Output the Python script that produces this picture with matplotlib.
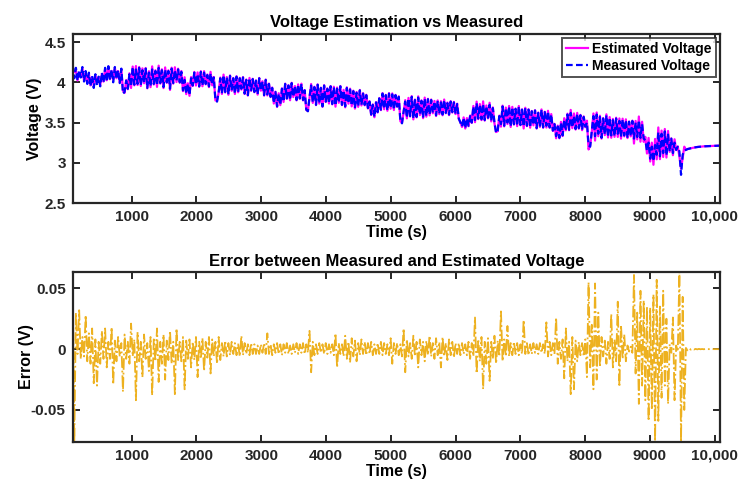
import numpy as np
import matplotlib
matplotlib.use("Agg")
import matplotlib.pyplot as plt

plt.rcParams['font.family'] = ['Liberation Sans', 'DejaVu Sans']
plt.rcParams['font.weight'] = 'bold'

# measured terminal voltage (V), one value every ~25 s
v_measured = [
    4.22, 4.05, 4.18, 4.02, 4.15, 4.06, 4.19, 4.01, 4.14, 3.98, 4.12, 3.95, 4.08, 3.93, 4.10, 3.96, 4.07, 3.95, 4.12, 4.00,
    4.18, 4.01, 4.20, 4.03, 4.16, 4.00, 4.19, 4.04, 4.15, 3.99, 4.17, 3.86, 3.88, 4.02, 3.92, 4.10, 3.95, 4.19, 3.97, 4.16,
    3.98, 4.18, 3.96, 4.15, 4.00, 4.17, 3.93, 4.12, 3.95, 4.16, 3.98, 4.14, 3.96, 4.18, 3.99, 4.15, 3.94, 4.16, 4.00, 4.14,
    3.92, 4.17, 3.99, 4.15, 4.02, 4.16, 4.00, 4.13, 3.90, 4.03, 3.86, 3.98, 3.84, 4.05, 3.96, 4.12, 3.97, 4.10, 3.95, 4.13,
    3.96, 4.12, 3.98, 4.09, 3.95, 4.11, 3.97, 4.06, 3.78, 3.76, 3.88, 4.05, 3.86, 4.09, 3.88, 4.06, 3.85, 4.08, 3.90, 4.05,
    3.86, 4.07, 3.88, 4.05, 3.92, 4.06, 3.86, 4.03, 3.84, 4.05, 3.90, 4.04, 3.88, 4.02, 3.85, 4.05, 3.90, 4.01, 3.84, 4.03,
    3.85, 3.98, 3.82, 3.93, 3.74, 3.88, 3.70, 3.86, 3.72, 3.92, 3.76, 3.98, 3.80, 3.96, 3.78, 3.99, 3.82, 3.95, 3.78, 3.97,
    3.80, 3.98, 3.78, 3.90, 3.66, 3.64, 3.82, 3.96, 3.75, 3.94, 3.72, 3.97, 3.74, 3.93, 3.70, 3.96, 3.76, 3.92, 3.74, 3.95,
    3.73, 3.94, 3.71, 3.92, 3.75, 3.95, 3.72, 3.90, 3.70, 3.93, 3.74, 3.91, 3.71, 3.89, 3.68, 3.87, 3.70, 3.90, 3.72, 3.86,
    3.72, 3.84, 3.68, 3.76, 3.60, 3.72, 3.57, 3.75, 3.63, 3.80, 3.66, 3.86, 3.67, 3.84, 3.65, 3.86, 3.68, 3.85, 3.66, 3.84,
    3.70, 3.82, 3.52, 3.49, 3.64, 3.76, 3.56, 3.80, 3.58, 3.82, 3.55, 3.78, 3.57, 3.81, 3.60, 3.77, 3.56, 3.80, 3.58, 3.79,
    3.60, 3.78, 3.62, 3.76, 3.59, 3.77, 3.61, 3.75, 3.60, 3.78, 3.62, 3.74, 3.60, 3.76, 3.63, 3.75, 3.61, 3.73, 3.55, 3.50,
    3.45, 3.56, 3.43, 3.55, 3.46, 3.58, 3.50, 3.70, 3.53, 3.74, 3.55, 3.72, 3.54, 3.73, 3.53, 3.70, 3.56, 3.72, 3.52, 3.68,
    3.50, 3.37, 3.40, 3.58, 3.48, 3.70, 3.46, 3.68, 3.50, 3.70, 3.45, 3.69, 3.48, 3.67, 3.46, 3.70, 3.47, 3.66, 3.45, 3.68,
    3.46, 3.66, 3.44, 3.64, 3.47, 3.65, 3.43, 3.62, 3.45, 3.66, 3.44, 3.63, 3.46, 3.64, 3.44, 3.60, 3.40, 3.48, 3.33, 3.45,
    3.31, 3.50, 3.34, 3.53, 3.42, 3.60, 3.41, 3.62, 3.44, 3.58, 3.42, 3.61, 3.43, 3.59, 3.41, 3.57, 3.45, 3.50, 3.22, 3.20,
    3.40, 3.58, 3.33, 3.60, 3.36, 3.57, 3.31, 3.55, 3.35, 3.59, 3.32, 3.56, 3.34, 3.53, 3.33, 3.55, 3.36, 3.52, 3.32, 3.54,
    3.34, 3.53, 3.31, 3.51, 3.33, 3.52, 3.30, 3.50, 3.32, 3.53, 3.31, 3.48, 3.30, 3.28, 3.15, 3.25, 3.05, 3.20, 3.02, 3.22,
    3.10, 3.38, 3.08, 3.36, 3.12, 3.39, 3.09, 3.35, 3.14, 3.30, 3.12, 3.25, 3.16, 3.20, 3.14, 2.85, 3.10, 3.15, 3.16, 3.17,
    3.175, 3.18, 3.185, 3.19, 3.193, 3.196, 3.198, 3.200, 3.202, 3.204,
    3.205, 3.206, 3.207, 3.208, 3.209, 3.210, 3.211, 3.212, 3.212, 3.213,
]

# measured minus estimated voltage (V), same sampling
v_error = [
    0.0637, -0.0761, 0.030, -0.004, 0.032, -0.008, 0.010, -0.006, 0.028, -0.010, 0.013, -0.012, 0.017, -0.028, 0.008, -0.030, 0.006, -0.012, 0.015, -0.008,
    0.017, -0.015, 0.006, -0.008, 0.018, -0.029, 0.007, -0.010, 0.010, -0.006, 0.005, -0.035, 0.012, -0.008, 0.006, -0.012, 0.021, -0.006, 0.008, -0.042,
    0.014, -0.010, 0.006, -0.023, 0.012, -0.008, 0.005, -0.018, 0.010, -0.038, 0.008, -0.010, 0.017, -0.027, 0.006, -0.012, 0.012, -0.025, 0.007, -0.009,
    0.015, -0.012, 0.006, -0.037, 0.017, -0.009, 0.006, -0.010, 0.010, -0.033, 0.007, -0.008, 0.008, -0.015, 0.006, -0.009, 0.010, -0.023, 0.006, -0.008,
    0.009, -0.018, 0.006, -0.007, 0.010, -0.020, 0.008, -0.006, 0.006, -0.012, 0.010, -0.009, 0.005, -0.006, 0.007, -0.006, 0.005, -0.005, 0.006, -0.004,
    0.005, -0.005, 0.004, -0.006, 0.011, -0.005, 0.005, -0.004, 0.004, -0.005, 0.005, -0.004, 0.004, -0.004, 0.003, -0.004, 0.004, -0.003, 0.005, -0.004,
    0.013, -0.004, 0.004, -0.005, 0.004, -0.003, 0.005, -0.004, 0.004, -0.005, 0.004, -0.003, 0.005, -0.004, 0.003, -0.004, 0.004, -0.003, 0.005, -0.004,
    0.004, -0.003, 0.005, -0.004, 0.004, -0.003, 0.015, -0.019, 0.006, -0.005, 0.004, -0.004, 0.005, -0.003, 0.004, -0.004, 0.005, -0.004, 0.004, -0.003,
    0.004, -0.005, 0.013, -0.015, 0.005, -0.004, 0.004, -0.006, 0.011, -0.008, 0.006, -0.011, 0.009, -0.006, 0.007, -0.010, 0.005, -0.005, 0.008, -0.004,
    0.006, -0.005, 0.005, -0.004, 0.006, -0.005, 0.004, -0.004, 0.005, -0.004, 0.006, -0.005, 0.005, -0.004, 0.004, -0.005, 0.009, -0.012, 0.005, -0.004,
    0.005, -0.005, 0.004, -0.006, 0.017, -0.019, 0.008, -0.006, 0.005, -0.008, 0.011, -0.006, 0.006, -0.015, 0.008, -0.005, 0.006, -0.010, 0.007, -0.005,
    0.011, -0.006, 0.005, -0.008, 0.009, -0.005, 0.006, -0.015, 0.010, -0.006, 0.005, -0.009, 0.008, -0.005, 0.006, -0.007, 0.005, -0.004, 0.005, -0.005,
    0.005, -0.004, 0.004, -0.005, 0.006, -0.008, 0.005, -0.006, 0.026, -0.020, 0.008, -0.010, 0.010, -0.033, 0.006, -0.012, 0.009, -0.026, 0.006, -0.008,
    0.011, -0.012, 0.007, -0.006, 0.031, -0.010, 0.008, -0.006, 0.019, -0.006, 0.005, -0.005, 0.006, -0.004, 0.005, -0.005, 0.004, -0.004, 0.024, -0.004,
    0.005, -0.005, 0.004, -0.004, 0.005, -0.003, 0.004, -0.004, 0.005, -0.003, 0.004, -0.004, 0.022, -0.006, 0.006, -0.005, 0.005, -0.004, 0.026, -0.012,
    0.006, -0.008, 0.008, -0.024, 0.017, -0.010, 0.006, -0.037, 0.010, -0.033, 0.007, -0.010, 0.006, -0.005, 0.005, -0.006, 0.008, -0.023, 0.055, -0.015,
    0.020, -0.033, 0.054, -0.025, 0.030, -0.015, 0.010, -0.006, 0.007, -0.012, 0.006, -0.008, 0.029, -0.015, 0.008, -0.010, 0.039, -0.031, 0.020, -0.008,
    0.012, -0.010, 0.003, -0.002, 0.002, -0.003, 0.061, -0.020, 0.030, -0.045, 0.048, -0.030, 0.040, -0.042, 0.035, -0.059, 0.034, -0.050, 0.045, -0.0761,
    0.057, -0.059, 0.035, -0.040, 0.048, -0.030, 0.025, -0.045, 0.004, -0.003, 0.026, -0.042, 0.003, -0.002, 0.0637, -0.0761, 0.043, -0.050, 0.001, -0.001,
    0.0005, -0.0004, 0.0003, -0.0003, 0.0002, -0.0002, 0.0002, -0.0001, 0.0001, -0.0001,
    0.0001, 0.0, 0.0, 0.0, 0.0, 0.0, 0.0, 0.0, 0.0, 0.0,
]

t = np.linspace(90, 10080, len(v_measured))
v_measured = np.array(v_measured)
v_error = np.array(v_error)
v_estimated = v_measured - v_error

xticks = [1000, 2000, 3000, 4000, 5000, 6000, 7000, 8000, 9000, 10000]
xticklabels = ['1000', '2000', '3000', '4000', '5000', '6000', '7000', '8000', '9000', '10,000']

dark = '#262626'

def style_axes(ax):
    for s in ax.spines.values():
        s.set_linewidth(1.6)
        s.set_color(dark)
    ax.tick_params(direction='in', length=5, width=1.4, top=True, right=True,
                   labelsize=11, colors=dark, pad=5)
    ax.set_xticks(xticks)
    ax.set_xticklabels(xticklabels, fontweight='bold')
    ax.set_xlim(t[0], t[-1])

fig = plt.figure(figsize=(7.43, 4.86), dpi=100)

ax1 = fig.add_axes([0.0978, 0.5823, 0.8712, 0.3477])
ax1.plot(t, v_estimated, color='#FF00FF', lw=1.6, label='Estimated Voltage')
ax1.plot(t, v_measured, color='#0000FF', lw=1.6, ls='--', dashes=(3, 1.5), label='Measured Voltage')
ax1.set_ylim(2.5, 4.6)
ax1.set_yticks([2.5, 3, 3.5, 4, 4.5])
ax1.set_yticklabels(['2.5', '3', '3.5', '4', '4.5'], fontweight='bold')
style_axes(ax1)
ax1.set_title('Voltage Estimation vs Measured', fontsize=12, fontweight='bold', pad=5)
ax1.set_xlabel('Time (s)', fontsize=11.5, fontweight='bold', labelpad=1)
ax1.set_ylabel('Voltage (V)', fontsize=11.5, fontweight='bold')
ax1.yaxis.set_label_coords(-0.047, 0.5)
leg = ax1.legend(loc='upper right', fontsize=10, frameon=True, fancybox=False,
                 handlelength=1.6, handletextpad=0.3, borderpad=0.3, labelspacing=0.2,
                 borderaxespad=0.3)
leg.get_frame().set_edgecolor(dark)
leg.get_frame().set_linewidth(1.4)
for txt in leg.get_texts():
    txt.set_fontweight('bold')

ax2 = fig.add_axes([0.0978, 0.0912, 0.8712, 0.3498])
ax2.plot(t, v_error, color='#EDB120', lw=1.3, ls='-.')
ax2.set_ylim(-0.0761, 0.0637)
ax2.set_yticks([-0.05, 0, 0.05])
ax2.set_yticklabels(['-0.05', '0', '0.05'], fontweight='bold')
style_axes(ax2)
ax2.set_title('Error between Measured and Estimated Voltage', fontsize=12, fontweight='bold', pad=4)
ax2.set_xlabel('Time (s)', fontsize=11.5, fontweight='bold', labelpad=1)
ax2.set_ylabel('Error (V)', fontsize=11.5, fontweight='bold')
ax2.yaxis.set_label_coords(-0.06, 0.5)

fig.savefig('out.png', dpi=100)
